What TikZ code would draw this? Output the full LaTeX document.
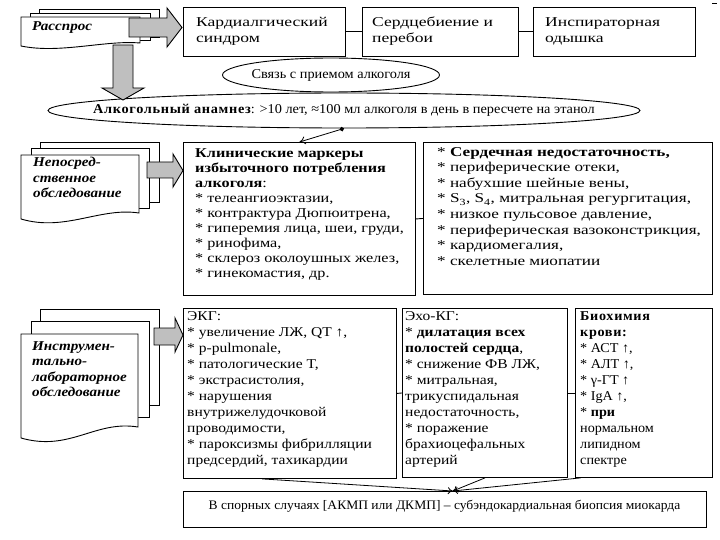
\documentclass[tikz,border=0pt]{standalone}
\usepackage{fontspec}
\setmainfont{Liberation Serif}
\newfontfamily\fTop[FakeStretch=1.3]{Liberation Serif}
\newfontfamily\fClin[FakeStretch=1.2]{Liberation Serif}
\newfontfamily\fRight[FakeStretch=1.27]{Liberation Serif}
\newfontfamily\fLow[FakeStretch=1.15]{Liberation Serif}
\newfontfamily\fBio[FakeStretch=1.05]{Liberation Serif}
\newfontfamily\fDoc[FakeStretch=1.12]{Liberation Serif}
\newfontfamily\fEll[FakeStretch=1.06]{Liberation Serif}
\newfontfamily\fBot[FakeStretch=1.04]{Liberation Serif}
\usetikzlibrary{shapes.geometric,arrows.meta,calc}
\newcommand{\wb}[2][8]{{\bfseries\addfontfeature{LetterSpace=#1}#2}}
\begin{document}
\begin{tikzpicture}[x=1pt,y=-1pt,
  box/.style={draw, line width=0.9pt, fill=white, anchor=north west, inner sep=0pt},
  txt/.style={anchor=north west, inner sep=0pt, align=left},
  doctxt/.style={anchor=north west, inner sep=0pt, align=left, font=\fDoc\fontsize{13.5}{15.5}\selectfont\bfseries\itshape},
  sheet/.style={draw, line width=0.9pt, fill=white},
  garrow/.style={draw, line width=0.9pt, fill=gray!50},
  conn/.style={line width=0.9pt},
  arr/.style={line width=0.8pt, -{To[length=5pt,width=7pt]}},
  ell/.style={draw, ellipse, line width=0.9pt, inner sep=0pt},
]
\useasboundingbox (0,0) rectangle (720,540);
\fill[white] (0,0) rectangle (720,540);

% ---------- top row ----------
\node[box, minimum width=162pt, minimum height=49pt] (kard) at (183,7) {};
\node[box, minimum width=156pt, minimum height=49pt] (serd) at (362,7) {};
\node[box, minimum width=162pt, minimum height=49pt] (insp) at (533,7) {};
\draw[conn] (kard.east) -- (serd.west);
\draw[conn] (serd.east) -- (insp.west);
\node[txt, font=\fTop\fontsize{13.5}{16}\selectfont] (kardT) at (196,17) {Кардиалгический\\синдром};
\node[txt, font=\fTop\fontsize{13.5}{16}\selectfont] (serdT) at (372,17) {Сердцебиение и\\перебои};
\node[txt, font=\fTop\fontsize{13.5}{16}\selectfont] (inspT) at (545,17) {Инспираторная\\одышка};
\draw[line width=0.8pt] (712,3) -- (717,3);

% ---------- document 1 ----------
\draw[sheet] (39,9) rectangle (159,37);
\draw[sheet] (30,13) rectangle (150,40);
\draw[sheet] (21,17) -- (140,17) -- (140,43) .. controls (105,40) and (60,54) .. (21,46) -- cycle;
\node[doctxt] (rassT) at (32,21) {Расспрос};

% ---------- ellipses ----------
\node[ell, minimum width=217pt, minimum height=34pt] (svyaz) at (331,75) {};
\node[font=\fEll\fontsize{13.5}{15.5}\selectfont, inner sep=0pt] (svyazT) at (svyaz.center) {Связь с приемом алкоголя};
\node[ell, minimum width=592pt, minimum height=35pt] (anam) at (344,110.5) {};
\node[font=\fEll\fontsize{13.5}{15.5}\selectfont, inner sep=0pt] (anamT) at (anam.center) {\wb[5]{Алкогольный анамнез}: >10 лет, ≈100 мл алкоголя в день в пересчете на этанол};

% gray arrows from document 1
\draw[garrow] (129,18) -- (167,18) -- (167,8) -- (182,27.5) -- (167,47) -- (167,37) -- (129,37) -- cycle;
\draw[garrow] (113,45) -- (133,45) -- (133,88) -- (144,88) -- (123,100) -- (102,88) -- (113,88) -- cycle;

% ---------- document 2 ----------
\draw[sheet] (40,142) rectangle (159,202);
\draw[sheet] (31,148) rectangle (149,208);
\draw[sheet] (21,155) -- (139,155) -- (139,213) .. controls (100,207) and (65,232) .. (21,219) -- cycle;
\node[doctxt] (nepT) at (33,157) {Непосред-\\ственное\\обследование};
\draw[garrow] (147,162) -- (173,162) -- (173,154) -- (183,170.5) -- (173,187) -- (173,178) -- (147,178) -- cycle;

% ---------- middle boxes ----------
\node[box, minimum width=232pt, minimum height=153pt] (clin) at (183,142) {};
\node[box, minimum width=289pt, minimum height=152pt] (heart) at (423,142) {};
\draw[conn] (clin.east) -- (heart.west);
\node[txt, font=\fClin\fontsize{13.5}{15}\selectfont] (clinT) at (195,148) {\textbf{Клинические маркеры}\\\textbf{избыточного потребления}\\\textbf{алкоголя}:\\* телеангиоэктазии,\\* контрактура Дюпюитрена,\\* гиперемия лица, шеи, груди,\\* ринофима,\\* склероз околоушных желез,\\* гинекомастия, др.};
\node[txt, font=\fRight\fontsize{13.5}{15.6}\selectfont] (heartT) at (437,147) {* \textbf{Сердечная недостаточность,}\\* периферические отеки,\\* набухшие шейные вены,\\* S\textsubscript{3}, S\textsubscript{4}, митральная регургитация,\\* низкое пульсовое давление,\\* периферическая вазоконстрикция,\\* кардиомегалия,\\* скелетные миопатии};
\draw[line width=0.8pt, {Circle[length=4.5pt]}-{To[length=6pt,width=8pt]}] (anam.south) -- (clin.north);

% ---------- document 3 ----------
\draw[sheet] (40,309) rectangle (159,405);
\draw[sheet] (31,321) rectangle (149,417);
\draw[sheet] (21,334) -- (138,334) -- (138,427) .. controls (95,420) and (70,452) .. (21,438) -- cycle;
\node[doctxt] (instT) at (32,341) {Инструмен-\\тально-\\лабораторное\\обследование};
\draw[garrow] (154,328) -- (175,328) -- (175,318) -- (183,335) -- (175,352) -- (175,345) -- (154,345) -- cycle;

% ---------- bottom boxes ----------
\node[box, minimum width=213pt, minimum height=170pt] (ecg) at (183,308) {};
\node[box, minimum width=165pt, minimum height=169pt] (echo) at (402,308) {};
\node[box, minimum width=137pt, minimum height=169pt] (bio) at (575,308) {};
\draw[conn] (ecg.east) -- (echo.west);
\draw[conn] (echo.east) -- (bio.west);
\node[txt, font=\fLow\fontsize{13.5}{16}\selectfont] (ecgT) at (187,311) {ЭКГ:\\* увеличение ЛЖ, QT ↑,\\* p-pulmonale,\\* патологические T,\\* экстрасистолия,\\* нарушения\\внутрижелудочковой\\проводимости,\\* пароксизмы фибрилляции\\предсердий, тахикардии};
\node[txt, font=\fLow\fontsize{13.5}{16}\selectfont] (echoT) at (405,311) {Эхо-КГ:\\* \textbf{дилатация всех}\\\textbf{полостей сердца},\\* снижение ФВ ЛЖ,\\* митральная,\\трикуспидальная\\недостаточность,\\* поражение\\брахиоцефальных\\артерий};
\node[txt, font=\fBio\fontsize{13.5}{16}\selectfont] (bioT) at (580,311) {\wb[5]{Биохимия}\\\wb[5]{крови:}\\* АСТ ↑,\\* АЛТ ↑,\\* γ-ГТ ↑\\* IgA ↑,\\* \textbf{при}\\нормальном\\липидном\\спектре};

\node[box, minimum width=523pt, minimum height=36pt] (biop) at (183,491) {};
\node[font=\fBot\fontsize{13}{15}\selectfont, inner sep=0pt] (biopT) at (444.5,506) {В спорных случаях [АКМП или ДКМП] – субэндокардиальная биопсия миокарда};
\coordinate (tip) at ($(biop.north west)!0.515!(biop.north east)$);
\draw[arr] ($(ecg.south west)!0.37!(ecg.south east)$) -- (tip);
\draw[arr] ($(echo.south west)!0.5!(echo.south east)$) -- (tip);
\draw[arr] ($(bio.south west)!0.04!(bio.south east)$) -- (tip);
\end{tikzpicture}
\end{document}
